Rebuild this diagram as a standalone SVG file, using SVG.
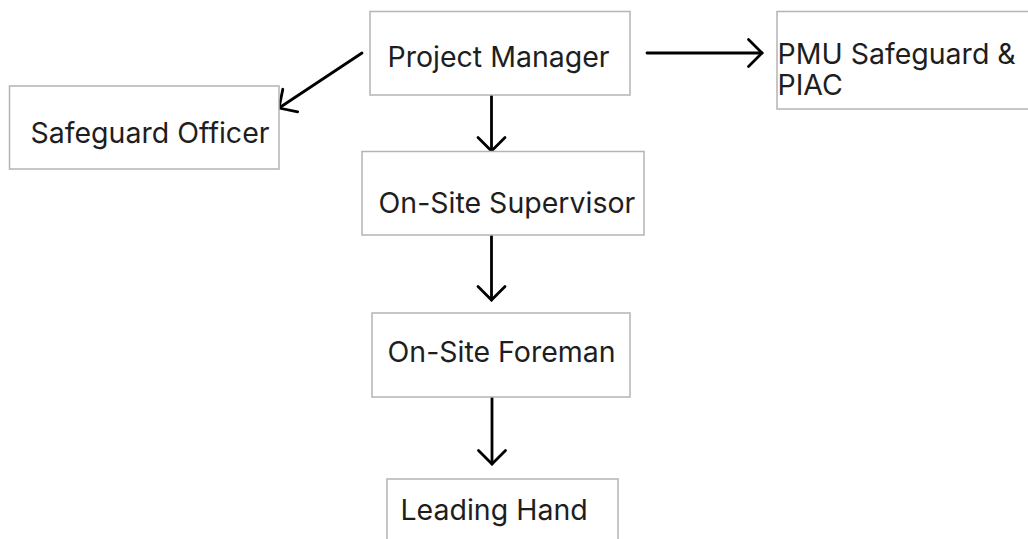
<svg xmlns="http://www.w3.org/2000/svg" width="1028" height="539" viewBox="0 0 1028 539">
  <style>
    .box { fill: #ffffff; stroke: #b4b4b4; stroke-width: 1.5; }
    .lbl { font-family: Inter, "Noto Sans", "Liberation Sans", sans-serif; font-size: 28.5px; fill: #1e1e1e; }
    .conn { stroke: #000000; stroke-width: 2.8; fill: none; stroke-linecap: round; }
  </style>
  <defs>
    <marker id="arr" markerUnits="userSpaceOnUse" markerWidth="40" markerHeight="40" viewBox="-20 -20 40 40" refX="0" refY="0" orient="auto">
      <path d="M-13.5,-13.5 L0,0 L-13.5,13.5" fill="none" stroke="#000000" stroke-width="2.8" stroke-linecap="round" stroke-linejoin="miter"/>
    </marker>
  </defs>
  <rect width="1028" height="539" fill="#ffffff"/>

  <g id="connectors">
    <line class="conn" x1="362" y1="53" x2="279" y2="108" marker-end="url(#arr)"/>
    <line class="conn" x1="647" y1="53" x2="762" y2="53" marker-end="url(#arr)"/>
    <line class="conn" x1="491.5" y1="95" x2="491.5" y2="151" marker-end="url(#arr)"/>
    <line class="conn" x1="491.5" y1="235" x2="491.5" y2="300" marker-end="url(#arr)"/>
    <line class="conn" x1="492" y1="397" x2="492" y2="464" marker-end="url(#arr)"/>
  </g>

  <g id="project-manager">
    <rect class="box" x="370" y="11.5" width="260" height="83.5"/>
    <text class="lbl" x="387.5" y="66.5">Project Manager</text>
  </g>

  <g id="safeguard-officer">
    <rect class="box" x="9.5" y="86" width="269.5" height="83"/>
    <text class="lbl" x="30.5" y="142.5">Safeguard Officer</text>
  </g>

  <g id="pmu-safeguard">
    <rect class="box" x="777" y="11.5" width="260" height="97.5"/>
    <text class="lbl" x="777.5" y="64">PMU Safeguard &amp;<tspan x="777.5" dy="31">PIAC</tspan></text>
  </g>

  <g id="on-site-supervisor">
    <rect class="box" x="362" y="151.5" width="282" height="83.5"/>
    <text class="lbl" x="378.5" y="213">On-Site Supervisor</text>
  </g>

  <g id="on-site-foreman">
    <rect class="box" x="372" y="313" width="258" height="84"/>
    <text class="lbl" x="387.5" y="362">On-Site Foreman</text>
  </g>

  <g id="leading-hand">
    <rect class="box" x="387" y="479" width="231" height="80"/>
    <text class="lbl" x="400.5" y="520">Leading Hand</text>
  </g>
</svg>
